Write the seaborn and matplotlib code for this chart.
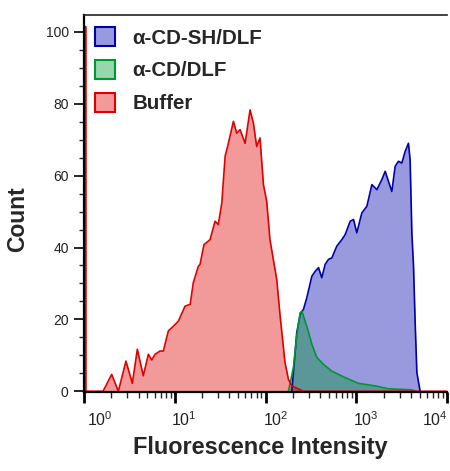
import numpy as np
import pandas as pd
import matplotlib
matplotlib.use("Agg")
import matplotlib.pyplot as plt
import matplotlib.transforms as mtransforms
from matplotlib.patches import Patch
from matplotlib.ticker import LogLocator, NullFormatter, MultipleLocator
import seaborn as sns

# ---------------- data ----------------
series_names = ["α-CD-SH/DLF", "α-CD/DLF", "Buffer"]

blue_x = [195, 221, 241, 262, 285, 324, 353, 384, 417, 454, 494, 538, 611, 694, 755,
          857, 933, 1014, 1152, 1310, 1487, 1688, 1916, 2084, 2266, 2466, 2685, 2918,
          3177, 3456, 3760, 3924, 4100, 4277, 4460, 4656, 5060]
blue_y = [0, 16.3, 21.4, 22.8, 26, 32, 33.4, 34.4, 31.6, 35.3, 36.7, 37.1, 40.4, 42.2, 43.6,
          47.3, 47.8, 44.1, 49.6, 51.5, 57.5, 56.1, 58.9, 61.2, 58.4, 55.6, 62.6, 64,
          63.5, 66.7, 69, 64.4, 44.1, 34.8, 19, 5.2, 0]

green_x = [179, 203, 221, 241, 251, 285, 324, 368, 435, 538, 755, 1059, 1615, 2264, 4100, 4460]
green_y = [0, 6.6, 15.4, 21.9, 22.3, 18.1, 13.1, 9.4, 7.5, 5.6, 3.8, 2.2, 1.5, 0.7, 0.4, 0]

red_x = [1.035, 1.04, 1.045, 1.62, 2.02, 2.39, 2.9, 3.41, 3.87, 4.5, 5.12, 5.57, 6.07, 6.88,
         7.49, 8.5, 9.66, 10.96, 13.0, 14.8, 16.0, 18.2, 19.0, 21.0, 24.5, 27.8, 30.2, 33.0,
         35.9, 39.0, 44.3, 48.2, 52.5, 59.6, 67.6, 73.6, 80.0, 87.0, 94.9, 103, 112, 133,
         145, 164, 179, 195, 262, 10000]
red_y = [0, 101.5, 0, 0, 4.7, 0, 8.4, 2.2, 11.7, 4.3, 10.3, 8.7, 10.3, 11.2,
         11.2, 16.8, 18.1, 19.5, 23.7, 24.2, 30.2, 34.8, 35.3, 40.8, 42.2, 47.3, 46.4, 52.4,
         65.4, 69, 75.1, 71.8, 72.8, 69, 78.3, 74.6, 68.1, 70.5, 57.5, 52.9, 42.2, 31.1,
         20.9, 8, 3.3, 1.5, 0, 0]

x_major = [1, 10, 100, 1000, 10000]
y_major = [0, 20, 40, 60, 80, 100]

line_colors = ["#0000aa", "#009632", "#e00000"]

# --------------- style ----------------
sns.set_style("ticks")
plt.rcParams["font.family"] = ["Liberation Sans", "DejaVu Sans"]

fig = plt.figure(figsize=(4.5, 4.71), dpi=100)
ax = fig.add_axes([84 / 450, 79 / 471, 363 / 450, 377 / 471])

frames = []
for name, xs, ys in zip(series_names, [blue_x, green_x, red_x], [blue_y, green_y, red_y]):
    frames.append(pd.DataFrame({"x": xs, "y": ys, "series": name}))
df = pd.concat(frames, ignore_index=True)

for name, col in zip(series_names, line_colors):
    sub = df[df["series"] == name]
    ax.fill_between(sub["x"], sub["y"], 0, color=col, alpha=0.4, linewidth=0)
    sns.lineplot(data=sub, x="x", y="y", color=col, linewidth=1.2, sort=False,
                 estimator=None, ax=ax, legend=False)

ax.set_xscale("log")
ax.set_xlim(1, 10000)
ax.set_ylim(-0.2, 104.7)

ax.set_xticks(x_major)
ax.set_xticklabels([r"$\mathdefault{10^{%d}}$" % int(np.log10(v)) for v in x_major])
ax.xaxis.set_minor_locator(LogLocator(base=10, subs=np.arange(2, 10)))
ax.xaxis.set_minor_formatter(NullFormatter())
ax.set_yticks(y_major)
ax.yaxis.set_minor_locator(MultipleLocator(5))

ax.tick_params(axis="both", which="major", direction="out",
               labelcolor="#222222", color="black")
ax.tick_params(axis="y", which="major", length=7, width=1.2, pad=4, labelsize=10)
ax.tick_params(axis="y", which="minor", length=3.5, width=1.0)
ax.tick_params(axis="x", which="major", length=8, width=2, pad=5, labelsize=11.5)
ax.tick_params(axis="x", which="minor", length=4, width=1.0)

offsets = [16, 9, 10, 10, -12]
for lab, off in zip(ax.get_xticklabels(), offsets):
    lab.set_transform(lab.get_transform() +
                      mtransforms.ScaledTranslation(off / 100, 0, fig.dpi_scale_trans))

for side in ["left", "bottom"]:
    ax.spines[side].set_linewidth(1.6)
    ax.spines[side].set_color("black")
ax.spines["top"].set_linewidth(1.2)
ax.spines["top"].set_color("#222222")
ax.spines["right"].set_visible(False)

ax.set_xlabel("Fluorescence Intensity", fontsize=16.9, fontweight="bold")
ax.set_ylabel("Count", fontsize=16.5, fontweight="bold")
ax.xaxis.set_label_coords((260 - 84) / 363, -0.117)
ax.yaxis.set_label_coords((29 - 84) / 363, (392 - 219) / 377)

handles = [Patch(facecolor=matplotlib.colors.to_rgba(c, 0.4), edgecolor=c, linewidth=1.5)
           for c in line_colors]
ax.legend(handles, series_names, loc="upper left", bbox_to_anchor=(0.030, 0.968),
          frameon=False, borderpad=0, borderaxespad=0, handlelength=0.97,
          handleheight=1.05, handletextpad=0.86, labelspacing=0.6,
          prop={"weight": "bold", "size": 14.8})

fig.savefig("out.png", dpi=100)
